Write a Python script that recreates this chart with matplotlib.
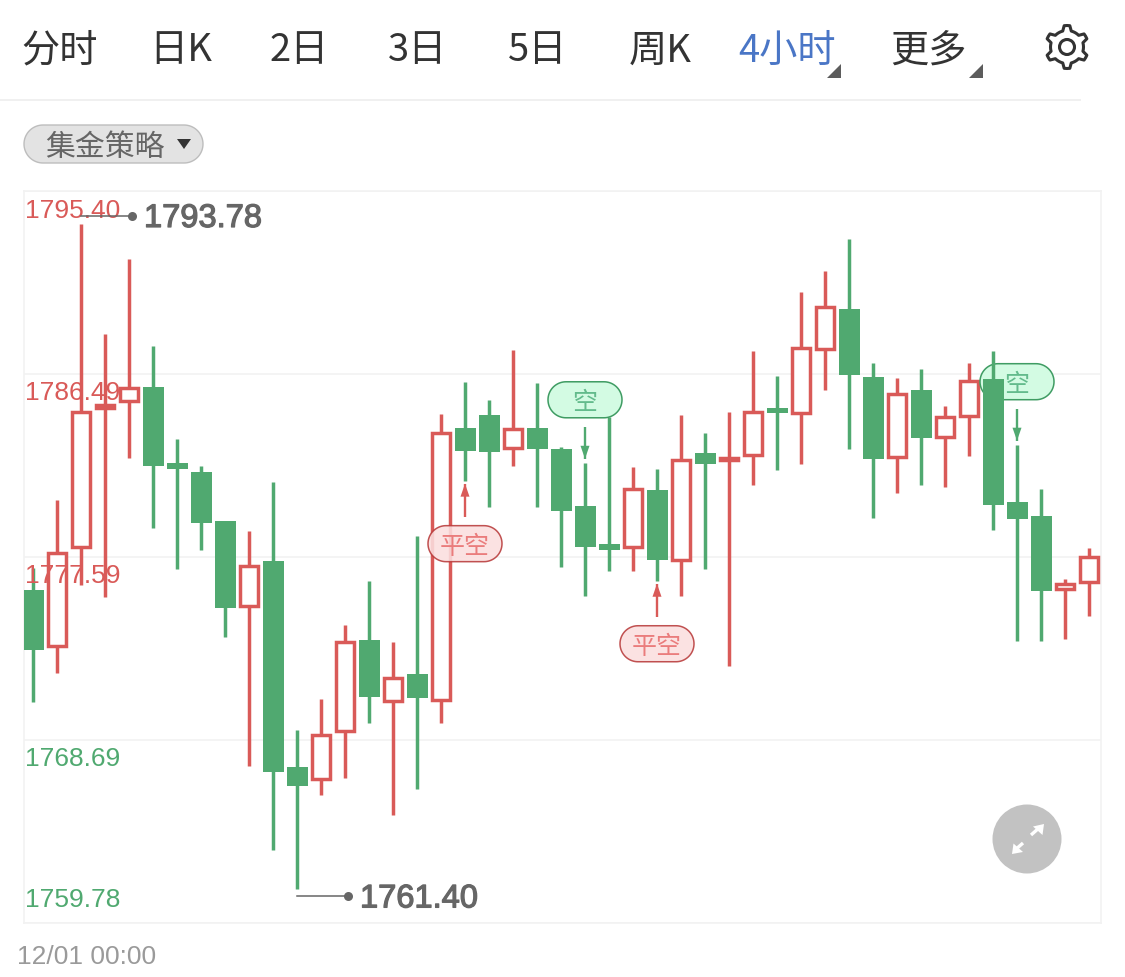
import numpy as np
import matplotlib
matplotlib.use("Agg")
import matplotlib.pyplot as plt
import matplotlib.patheffects as pe
from matplotlib.patches import Rectangle, Circle, Polygon

CJK = ['Noto Sans CJK SC', 'DejaVu Sans']
LAT = ['Liberation Sans', 'DejaVu Sans']
plt.rcParams['font.family'] = CJK

# ---------- data ----------
tabs = ['分时', '日K', '2日', '3日', '5日', '周K', '4小时', '更多']
strategy_label = '集金策略'
date_label = '12/01 00:00'
y_levels = [1795.40, 1786.49, 1777.59, 1768.69, 1759.78]
y_level_labels = ['1795.40', '1786.49', '1777.59', '1768.69', '1759.78']
max_label = '1793.78'
min_label = '1761.40'

opens = [1775.98, 1773.16, 1777.98, 1784.74, 1785.08, 1785.86, 1782.16, 1781.73, 1779.34, 1775.11,
         1777.40, 1767.37, 1766.69, 1769.03, 1773.55, 1770.49, 1771.90, 1770.53, 1783.87, 1784.50,
         1782.80, 1783.87, 1782.85, 1780.07, 1778.22, 1777.98, 1780.85, 1777.35, 1782.65, 1782.21,
         1782.46, 1784.84, 1784.50, 1787.61, 1789.66, 1786.35, 1782.36, 1785.72, 1783.33, 1784.35,
         1786.25, 1780.27, 1779.59, 1775.94, 1776.28]
closes = [1773.06, 1777.83, 1784.69, 1785.04, 1785.86, 1782.02, 1781.87, 1779.24, 1775.11, 1777.20,
          1767.13, 1766.45, 1768.98, 1773.50, 1770.78, 1771.75, 1770.73, 1783.67, 1782.75, 1782.70,
          1783.87, 1782.85, 1779.83, 1778.08, 1777.93, 1780.95, 1777.44, 1782.36, 1782.12, 1782.46,
          1784.69, 1784.60, 1787.81, 1789.80, 1786.45, 1782.36, 1785.57, 1783.38, 1784.45, 1786.20,
          1780.12, 1779.44, 1775.94, 1776.33, 1777.64]
highs = [1777.06, 1780.36, 1793.78, 1788.44, 1792.09, 1787.86, 1783.33, 1782.02, 1779.34, 1778.86,
         1781.24, 1769.17, 1770.68, 1774.28, 1776.42, 1773.45, 1778.61, 1784.55, 1786.11, 1785.23,
         1787.66, 1786.06, 1782.94, 1782.16, 1784.40, 1781.97, 1781.87, 1784.50, 1783.62, 1784.65,
         1787.61, 1786.40, 1790.49, 1791.51, 1793.06, 1787.03, 1786.30, 1786.74, 1784.94, 1787.03,
         1787.61, 1783.04, 1780.90, 1776.52, 1778.03]
lows = [1770.53, 1771.95, 1776.23, 1775.64, 1782.41, 1779.00, 1777.01, 1777.93, 1773.70, 1767.42,
        1763.33, 1761.40, 1766.01, 1766.84, 1769.51, 1765.04, 1766.30, 1769.51, 1781.29, 1780.02,
        1782.02, 1780.02, 1777.10, 1775.69, 1776.91, 1776.91, 1776.42, 1775.69, 1777.01, 1772.29,
        1781.09, 1781.82, 1782.12, 1785.72, 1782.85, 1779.49, 1780.70, 1781.09, 1781.00, 1782.51,
        1778.90, 1773.50, 1773.50, 1773.60, 1774.72]

cover_idx = [18, 26]   # 平空 signals
short_idx = [23, 41]   # 空 signals

# ---------- style ----------
W, H = 1125, 978
RED = '#d95a58'
GREEN = '#50a970'
GRID = '#f2f2f2'
fig = plt.figure(figsize=(W / 100, H / 100), dpi=100, facecolor='white')


def pill_points(xc, yc, w, h, sx=1.0, sy=1.0):
    """Outline of a fully rounded pill, w and h in pixels, scaled by sx, sy."""
    r = h / 2
    t = np.linspace(-np.pi / 2, np.pi / 2, 40)
    xr = (w / 2 - r + r * np.cos(t)) * sx + xc
    yr = r * np.sin(t) * sy + yc
    xl = (-(w / 2 - r) - r * np.cos(t[::-1])) * sx + xc
    yl = r * np.sin(t[::-1]) * sy + yc
    return np.r_[np.c_[xr, yr], np.c_[xl, yl]]


# overlay in pixel coordinates for the page furniture
bg = fig.add_axes([0, 0, 1, 1])
bg.set_xlim(0, W); bg.set_ylim(H, 0); bg.axis('off')

tab_x = [60, 181, 299, 418, 538, 660, 787, 928]
for t, x in zip(tabs, tab_x):
    c = '#4a76c6' if t == '4小时' else '#333333'
    bg.text(x, 51, t, ha='center', va='center', fontsize=27.5, color=c, family=CJK)
for x0 in (827, 969):
    bg.add_patch(Polygon([[x0 + 14, 65], [x0 + 14, 79], [x0, 79]], closed=True, fc='#5c5c5c', ec='none'))

# gear
ang = np.linspace(0, 2 * np.pi, 49)
rad = []
for a in ang:
    k = (a / (2 * np.pi) * 6) % 1
    rad.append(21.5 if (k < 0.22 or k > 0.78) else 16.5)
gx = 1067 + np.array(rad) * np.sin(ang)
gy = 48 + np.array(rad) * np.cos(ang)
bg.add_patch(Polygon(np.c_[gx, gy], closed=True, fc='none', ec='#333333', lw=2.2, joinstyle='round'))
bg.add_patch(Circle((1067, 48), 7.5, fc='none', ec='#333333', lw=2.2))

bg.plot([0, 1080], [100.5, 100.5], color='#f0f0f0', lw=1.4)
bg.add_patch(Polygon(pill_points(113.5, 145, 179, 38), closed=True, fc='#e3e3e3', ec='#bdbdbd', lw=1))
bg.text(105, 148, strategy_label, ha='center', va='center', fontsize=21.5, color='#666666', family=CJK, zorder=3)
bg.add_patch(Polygon([[177, 140], [191, 140], [184, 150]], closed=True, fc='#333333', ec='none', zorder=3))
bg.text(17, 957, date_label, ha='left', va='center', fontsize=19, color='#9a9a9a', family=LAT)

# main chart
AX_L, AX_R, AX_T, AX_B = 24, 1101, 191.7, 923.7
ax = fig.add_axes([AX_L / W, 1 - AX_B / H, (AX_R - AX_L) / W, (AX_B - AX_T) / H])
ax.set_facecolor('none')
STEP = 24
ax.set_xlim((AX_L - 33) / STEP, (AX_R - 33) / STEP)
ax.set_ylim(y_levels[-1], y_levels[0])
ax.set_xticks([])
ax.set_yticks(y_levels)
ax.tick_params(length=0, labelleft=False)
ax.grid(True, axis='y', color=GRID, lw=1.2, zorder=0)
for s in ax.spines.values():
    s.set_color(GRID); s.set_linewidth(1.2)

px = 1 / STEP
py = (y_levels[0] - y_levels[-1]) / (AX_B - AX_T)
LW = 2.5
for i, (o, c, h, l) in enumerate(zip(opens, closes, highs, lows)):
    z = 3 + i * 0.01
    up = c >= o
    col = RED if up else GREEN
    ax.plot([i, i], [l, h], color=col, lw=LW, solid_capstyle='butt', zorder=z)
    lo, hi = min(o, c), max(o, c)
    if up:
        ax.add_patch(Rectangle((i - 8.8 * px, lo + 1.7 * py), 17.6 * px, max(hi - lo - 3.4 * py, 0.02),
                               fc='white', ec=col, lw=LW, zorder=z + 0.001))
    else:
        ax.add_patch(Rectangle((i - 10.5 * px, lo), 21 * px, max(hi - lo, 0.1),
                               fc=col, ec='none', zorder=z + 0.001))


def pill(xc, yc, fc, ec, txt, tc, z, alpha=1.0):
    pts = pill_points(xc, yc, 74, 36, px, py)
    ax.add_patch(Polygon(pts, closed=True, fc=fc, ec=ec, lw=1.1, zorder=z, alpha=alpha))
    ax.text(xc, yc - 2.5 * py, txt, ha='center', va='center', fontsize=18, color=tc, family=CJK, zorder=z + 0.001)


def arrow(x, y0, y1, col, z):
    ax.plot([x, x], [y0, y1], color=col, lw=1.7, solid_capstyle='butt', zorder=z)
    d = np.sign(y1 - y0)
    ax.add_patch(Polygon([[x, y1], [x - 4.5 * px, y1 - d * 13 * py], [x + 4.5 * px, y1 - d * 13 * py]],
                         closed=True, fc=col, ec='none', zorder=z))


for i in cover_idx:
    l = lows[i]
    arrow(i, l - 36 * py, l - 3 * py, RED, 4)
    pill(i, l - 63 * py, '#fbdfdf', '#b83a3a', '平空', '#ea7c7c', 4, alpha=0.88)
for n, i in enumerate(short_idx):
    h = highs[i]
    arrow(i, h + 36 * py, h + 4 * py, GREEN, 4)
    z = 4 if n == 0 else 3 + (i - 1.5) * 0.01
    pill(i, h + 63 * py, '#d3fbe3', '#3f9c63', '空', '#63bb8c', z)

# level labels
offs = [-19, -18, -18, -18, 24]
cols = [RED, RED, RED, GREEN, GREEN]
for v, t, d, c in zip(y_levels, y_level_labels, offs, cols):
    ax.annotate(t, xy=(0, v), xycoords=('axes fraction', 'data'), xytext=(1, d), textcoords='offset pixels',
                ha='left', va='center', fontsize=19, color=c, family=LAT, zorder=6, annotation_clip=False)

# extreme labels
imax = int(np.argmax(highs))
imin = int(np.argmin(lows))
GR = '#666666'
for i, v, t, dy in [(imax, highs[imax], max_label, 8), (imin, lows[imin], min_label, -7)]:
    yy = v + dy * py
    ax.plot([i, i + 51 * px], [yy, yy], color=GR, lw=1.1, zorder=6, clip_on=False)
    ax.plot([i + 51 * px], [yy], 'o', color=GR, ms=6.5, mew=0, zorder=6)
    ax.text(i + 63 * px, yy - 2.5 * py, t, ha='left', va='center', fontsize=23.5, color=GR, family=LAT,
            zorder=6, path_effects=[pe.withStroke(linewidth=0.9, foreground=GR)])

# expand button
top = fig.add_axes([0, 0, 1, 1])
top.set_xlim(0, W); top.set_ylim(H, 0); top.axis('off'); top.patch.set_alpha(0)
top.add_patch(Circle((1027, 840), 34.5, fc='#c2c2c2', ec='none'))
top.plot([1031, 1039], [836, 829], color='white', lw=2.4, solid_capstyle='butt')
top.add_patch(Polygon([[1044, 825], [1042.5, 836], [1033, 827.5]], closed=True, fc='white', ec='none'))
top.plot([1023, 1015], [844, 851], color='white', lw=2.4, solid_capstyle='butt')
top.add_patch(Polygon([[1012, 855], [1013.5, 844.5], [1023, 853]], closed=True, fc='white', ec='none'))

fig.savefig('out.png', dpi=100)
